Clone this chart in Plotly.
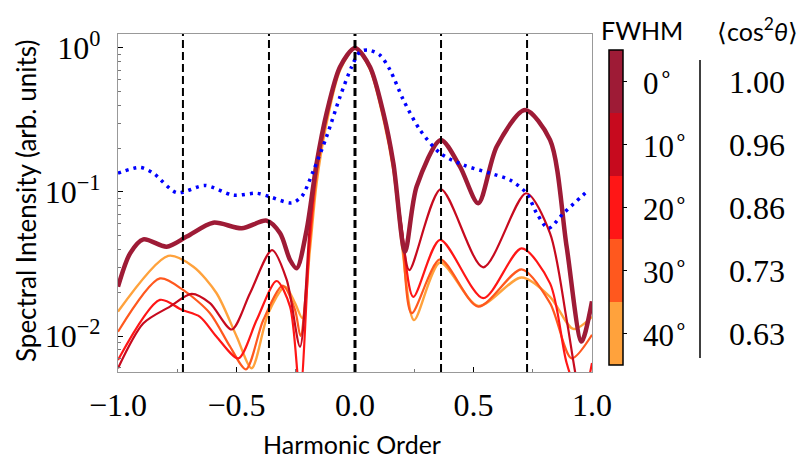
import plotly.graph_objects as go

# ---------------- data ----------------
fwhm_deg = [0, 10, 20, 30, 40]
cos2_vals = ["1.00", "0.96", "0.86", "0.73", "0.63"]
colors = ["#9E1B36", "#C70A1E", "#FF1616", "#FF581E", "#FFA23C"]
widths = [4.5, 2.2, 2.2, 2.2, 2.4]
marker_orders = [-0.726, -0.363, 0.0, 0.363, 0.726]

blue_x = [-1.0, -0.907, -0.851, -0.752, -0.633, -0.513, -0.415, -0.362, -0.267, -0.225,
          -0.176, -0.12, -0.063, -0.014, 0.021, 0.056, 0.105, 0.148, 0.204, 0.274,
          0.359, 0.457, 0.57, 0.654, 0.724, 0.767, 0.816, 0.879, 0.985]
blue_y = [0.135, 0.148, 0.135, 0.099, 0.111, 0.095, 0.098, 0.093, 0.084, 0.093,
          0.140, 0.242, 0.459, 0.741, 0.942, 0.968, 0.893, 0.703, 0.436, 0.270,
          0.186, 0.154, 0.135, 0.121, 0.098, 0.071, 0.056, 0.071, 0.103]

x_0 = [-1.0, -0.949, -0.893, -0.795, -0.71, -0.598, -0.478, -0.373, -0.316, -0.274,
       -0.246, -0.204, -0.162, -0.12, -0.063, 0.0, 0.063, 0.12, 0.162, 0.211,
       0.26, 0.362, 0.443, 0.52, 0.598, 0.717, 0.823, 0.893, 0.956, 1.0]
y_0 = [0.022, 0.0375, 0.0469, 0.0417, 0.049, 0.0612, 0.056, 0.0632, 0.0516, 0.0337,
       0.0295, 0.0545, 0.158, 0.352, 0.741, 1.0, 0.741, 0.352, 0.158, 0.0385,
       0.109, 0.230, 0.150, 0.0836, 0.207, 0.371, 0.230, 0.0417, 0.00914, 0.0174]

x_10 = [-1.0, -0.893, -0.781, -0.689, -0.612, -0.52, -0.443, -0.35, -0.288, -0.232,
        -0.19, -0.162, -0.12, -0.063, 0.0, 0.063, 0.12, 0.162, 0.195, 0.229,
        0.362, 0.541, 0.722, 0.823, 0.893, 0.94, 1.0]
y_10 = [0.00597, 0.01225, 0.016, 0.0196, 0.0169, 0.0111, 0.0198, 0.0395, 0.0245, 0.00843,
        0.06, 0.15, 0.345, 0.74, 1.0, 0.74, 0.35, 0.155, 0.06, 0.0287,
        0.1045, 0.030, 0.098, 0.0516, 0.013, 0.0045, 0.002]

x_20 = [-1.0, -0.823, -0.731, -0.654, -0.584, -0.492, -0.415, -0.331, -0.274, -0.232,
        -0.19, -0.162, -0.12, -0.063, 0.0, 0.063, 0.12, 0.162, 0.2, 0.246,
        0.359, 0.541, 0.703, 0.823, 0.893, 0.955, 1.0]
y_20 = [0.00681, 0.0178, 0.0152, 0.0136, 0.00989, 0.007, 0.0129, 0.0241, 0.016, 0.004,
        0.05, 0.14, 0.335, 0.73, 1.0, 0.73, 0.34, 0.15, 0.05, 0.0187,
        0.0465, 0.0183, 0.0406, 0.0232, 0.0065, 0.0035, 0.0065]

x_30 = [-1.0, -0.823, -0.724, -0.612, -0.527, -0.46, -0.387, -0.305, -0.253, -0.23,
        -0.19, -0.162, -0.12, -0.063, 0.0, 0.063, 0.12, 0.162, 0.2, 0.239,
        0.359, 0.52, 0.703, 0.823, 0.914, 1.0]
y_30 = [0.0107, 0.0251, 0.0208, 0.0144, 0.00843, 0.00587, 0.0129, 0.0224, 0.0152, 0.010,
        0.045, 0.13, 0.32, 0.72, 1.0, 0.72, 0.33, 0.145, 0.045, 0.0144,
        0.034, 0.016, 0.029, 0.0169, 0.007, 0.0102]

x_40 = [-1.0, -0.788, -0.682, -0.584, -0.499, -0.436, -0.366, -0.295, -0.253, -0.222,
        -0.19, -0.162, -0.12, -0.063, 0.0, 0.063, 0.12, 0.162, 0.2, 0.249,
        0.359, 0.52, 0.703, 0.823, 0.921, 1.0]
y_40 = [0.01476, 0.036, 0.0303, 0.0198, 0.00989, 0.00597, 0.0144, 0.022, 0.0169, 0.0133,
        0.04, 0.115, 0.30, 0.70, 1.0, 0.71, 0.32, 0.14, 0.04, 0.0129,
        0.0324, 0.0162, 0.0255, 0.0187, 0.0112, 0.0136]

series_x = [x_0, x_10, x_20, x_30, x_40]
series_y = [y_0, y_10, y_20, y_30, y_40]

x_tick_vals = [-1, -0.5, 0, 0.5, 1]
x_tick_text = ["−1.0", "−0.5", "0.0", "0.5", "1.0"]
y_tick_vals = [1, 0.1, 0.01]
y_tick_text = ["10<sup>0</sup>", "10<sup>−1</sup>", "10<sup>−2</sup>"]

# ---------------- layout geometry ----------------
OFF = 8  # page body margin of the html page
W, H = 809 - OFF, 460 - OFF
L, R, T, B = 118 - OFF, 592 - OFF, 34 - OFF, 372 - OFF
pw, ph = R - L, B - T

def px2paper_x(px):
    return (px - OFF - L) / pw

def px2paper_y(py):
    return (B - (py - OFF)) / ph

SERIF = "Liberation Serif"
SANS = "Lato"
SANS_SIZE = 25

fig = go.Figure()

# colored curves (40 deg first so 0 deg is on top)
for i in reversed(range(len(fwhm_deg))):
    fig.add_trace(go.Scatter(
        x=series_x[i], y=series_y[i], mode="lines",
        line=dict(color=colors[i], width=widths[i], shape="spline", smoothing=0.8),
        showlegend=False, hoverinfo="skip"))

# blue dotted
fig.add_trace(go.Scatter(
    x=blue_x, y=blue_y, mode="lines",
    line=dict(color="#0000FF", width=3.5, dash="3px,5px", shape="spline", smoothing=0.8),
    showlegend=False, hoverinfo="skip"))

# vertical dashed markers
for xv in marker_orders:
    fig.add_shape(type="line", xref="x", yref="paper", x0=xv, x1=xv, y0=0, y1=1,
                  line=dict(color="black", width=3 if xv == 0 else 2, dash="8px,4px"),
                  layer="above")

# colorbar (discrete)
zmin, zmax = -45, 5
cb_bottom_px, cb_top_px = 365, 50
cs = []
n = len(fwhm_deg)
for k in range(n):
    c = colors[n - 1 - k]
    cs.append([k / n, c])
    cs.append([(k + 1) / n, c])
fig.add_trace(go.Scatter(
    x=[None] * n, y=[None] * n, mode="markers",
    marker=dict(color=[-f for f in fwhm_deg], colorscale=cs, cmin=zmin, cmax=zmax,
                showscale=True,
                colorbar=dict(x=px2paper_x(609), xanchor="left", xpad=0,
                              y=px2paper_y(cb_bottom_px), yanchor="bottom", ypad=0,
                              thickness=14, thicknessmode="pixels",
                              len=cb_bottom_px - cb_top_px, lenmode="pixels",
                              outlinecolor="black", outlinewidth=1.5,
                              tickvals=[-f for f in fwhm_deg], ticks="outside",
                              ticklen=4, tickcolor="black", showticklabels=False)),
    showlegend=False, hoverinfo="skip"))

annotations = []
for f, v in zip(fwhm_deg, cos2_vals):
    frac = (-f - zmin) / (zmax - zmin)
    py = cb_bottom_px - frac * (cb_bottom_px - cb_top_px)
    annotations.append(dict(x=px2paper_x(641), y=px2paper_y(py), xref="paper", yref="paper",
                            text=f"{f}<sup>∘</sup>", showarrow=False, xanchor="left",
                            yanchor="middle", font=dict(family=SERIF, size=31, color="black")))
    annotations.append(dict(x=px2paper_x(757), y=px2paper_y(py), xref="paper", yref="paper",
                            text=v, showarrow=False, xanchor="center",
                            yanchor="middle", font=dict(family=SERIF, size=32, color="black")))

annotations.append(dict(x=px2paper_x(642), y=px2paper_y(30), xref="paper", yref="paper",
                        text="FWHM", showarrow=False, xanchor="center", yanchor="middle",
                        font=dict(family=SANS, size=SANS_SIZE, color="black")))
annotations.append(dict(x=px2paper_x(757), y=px2paper_y(30), xref="paper", yref="paper",
                        text="⟨cos<sup>2</sup><i>θ</i>⟩", showarrow=False, xanchor="center",
                        yanchor="middle", font=dict(family=SANS, size=SANS_SIZE, color="black")))
annotations.append(dict(x=px2paper_x(352), y=px2paper_y(444), xref="paper", yref="paper",
                        text="Harmonic Order", showarrow=False, xanchor="center", yanchor="middle",
                        font=dict(family=SANS, size=SANS_SIZE, color="black")))
annotations.append(dict(x=px2paper_x(26), y=px2paper_y(201), xref="paper", yref="paper",
                        text="Spectral Intensity (arb. units)", showarrow=False, textangle=-90,
                        xanchor="center", yanchor="middle",
                        font=dict(family=SANS, size=SANS_SIZE + 1, color="black")))

fig.add_shape(type="line", xref="paper", yref="paper",
              x0=px2paper_x(700), x1=px2paper_x(700), y0=px2paper_y(358), y1=px2paper_y(60),
              line=dict(color="black", width=1.5))

minor_vals = [k * 10.0 ** e for e in (-3, -2, -1) for k in range(2, 10)]

fig.update_layout(
    width=W, height=H,
    margin=dict(l=L, r=W - R, t=T, b=H - B, pad=0),
    paper_bgcolor="white", plot_bgcolor="white",
    showlegend=False,
    annotations=annotations,
    xaxis=dict(range=[-1, 1], tickvals=x_tick_vals, ticktext=x_tick_text,
               ticks="inside", ticklen=5, tickcolor="black", showgrid=False, zeroline=False,
               showline=True, linecolor="#999999", linewidth=1.2, mirror=True,
               ticklabelstandoff=4,
               minor=dict(dtick=0.25, ticks="inside", ticklen=3, tickcolor="#777777",
                          showgrid=False),
               tickfont=dict(family=SERIF, size=32, color="black")),
    yaxis=dict(type="log", range=[-2.25, 0.097], tickvals=y_tick_vals, ticktext=y_tick_text,
               ticks="inside", ticklen=5, tickcolor="black", showgrid=False, zeroline=False,
               showline=True, linecolor="#999999", linewidth=1.2, mirror=True,
               ticklabelstandoff=10,
               minor=dict(tickvals=minor_vals, ticks="inside", ticklen=3,
                          tickcolor="#777777", showgrid=False),
               tickfont=dict(family=SERIF, size=32, color="black")),
)

fig.write_html("out.html")
